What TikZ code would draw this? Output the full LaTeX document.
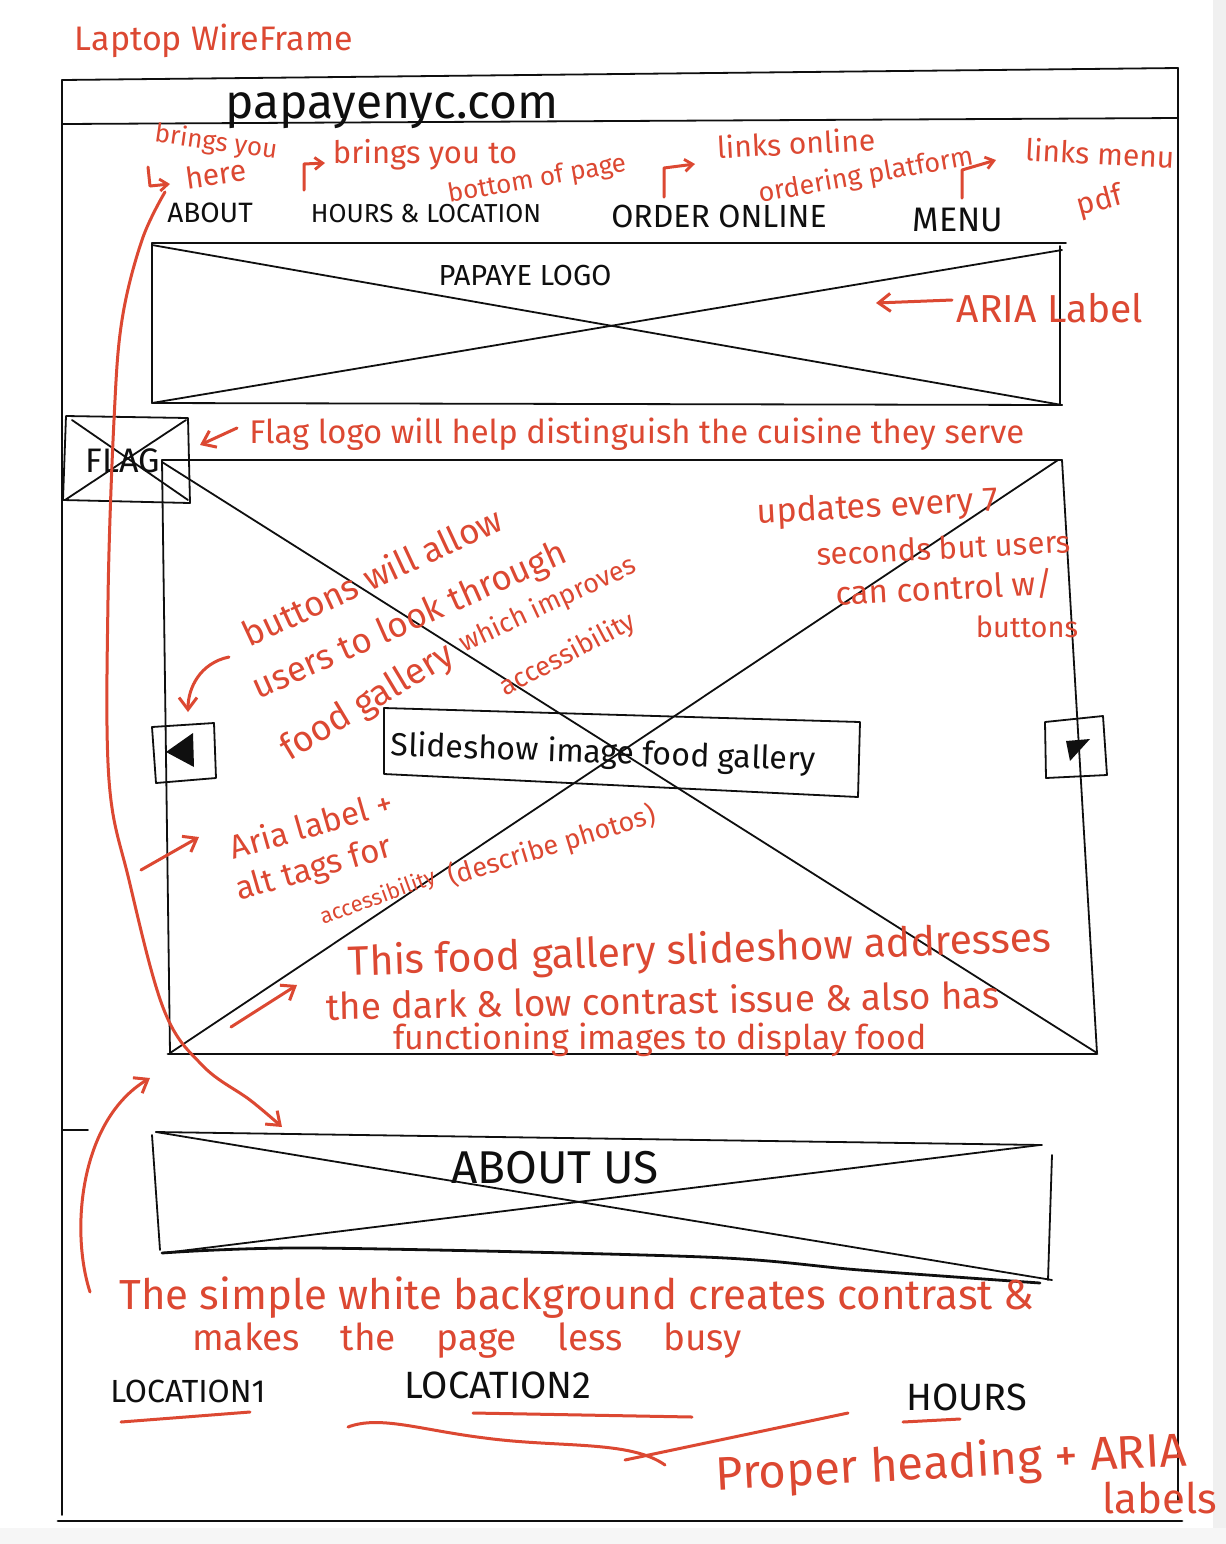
\documentclass[tikz,border=0pt]{standalone}
\usepackage{fontspec}
\setmainfont{Fira Sans}
\usetikzlibrary{arrows.meta}
\definecolor{ink}{RGB}{15,15,15}
\definecolor{pen}{RGB}{220,72,50}
\newcommand{\fsz}[1]{\fontsize{#1}{#1}\selectfont}
\begin{document}
\begin{tikzpicture}[x=0.5pt,y=-0.5pt,
  wire/.style={draw=ink,line width=0.9pt,line cap=round,line join=round},
  heavywire/.style={draw=ink,line width=1.4pt,line cap=round},
  redline/.style={draw=pen,line width=1.5pt,line cap=round,line join=round},
  redarrow/.style={redline,-{Straight Barb[length=6pt,width=9pt,line width=1.5pt]}},
  smallarrow/.style={redline,-{Straight Barb[length=4pt,width=6pt,line width=1.4pt]}},
  note/.style={text=pen,inner sep=0pt},
  lbl/.style={text=ink,inner sep=0pt,anchor=base},
]
\useasboundingbox (0,0) rectangle (1226,1544);
\fill[white] (0,0) rectangle (1226,1544);
\fill[gray!12] (1213,0) rectangle (1226,1544);
\fill[gray!7] (0,1528) rectangle (1226,1544);

% ---------- outer frame ----------
\draw[wire] (62,80) -- (1178,68);
\draw[wire] (62,124) -- (1178,118);
\draw[wire] (62,80) -- (62,1515);
\draw[wire] (1178,68) -- (1178,1500);
\draw[heavywire] (58,1521) -- (1182,1521);
\draw[wire] (62,1130) -- (88,1130);

\node[note,anchor=base,font=\fsz{17}] (title) at (214,50) {Laptop WireFrame};
\node[lbl,font=\fsz{24}] (domain) at (392,118) {papayenyc.com};

% ---------- navigation ----------
\node[lbl,font=\fsz{14}] (navabout) at (210,222) {ABOUT};
\node[lbl,font=\fsz{13}] (navhours) at (426,222) {HOURS \& LOCATION};
\node[lbl,font=\fsz{16}] (navorder) at (719,227) {ORDER ONLINE};
\node[lbl,font=\fsz{17}] (navmenu) at (958,231) {MENU};

\node[note,font=\fsz{13},rotate=-8] (n1a) at (216,143) {brings you};
\node[note,font=\fsz{15},rotate=8] (n1b) at (216,174) {here};
\draw[smallarrow] (148,167) -- (150,186) -- (170,184);

\node[note,anchor=base,font=\fsz{15.5}] (n2a) at (425,163) {brings you to};
\node[note,font=\fsz{13},rotate=10] (n2b) at (537,180) {bottom of page};
\draw[smallarrow] (304,190) -- (304,164) -- (325,163);

\node[note,font=\fsz{15},rotate=3] (n3a) at (796,143) {links online};
\node[note,font=\fsz{13.5},rotate=10] (n3b) at (866,176) {ordering platform};
\draw[smallarrow] (664,197) -- (664,168) -- (695,164);

\node[note,font=\fsz{15},rotate=-3] (n4a) at (1100,153) {links menu};
\node[note,font=\fsz{15},rotate=15] (n4b) at (1100,202) {pdf};
\draw[smallarrow] (962,198) -- (962,170) -- (996,160);

% ---------- logo box ----------
\draw[wire] (152,243) -- (1066,243);
\draw[wire] (152,243) -- (152,403) -- (1062,405);
\draw[wire] (1060,246) -- (1060,405);
\draw[wire] (152,245) -- (1062,405);
\draw[wire] (152,403) -- (1062,250);
\node[lbl,font=\fsz{14.5}] (logo) at (525,285) {PAPAYE LOGO};
\coordinate (logoedge) at (876,303);
\node[note,anchor=base,font=\fsz{19.5}] (arianote) at (1050,322) {ARIA Label};
\draw[redarrow] (952,300) -- (logoedge);

% ---------- flag ----------
\draw[wire] (66,416) -- (188,418) -- (190,503) -- (63,500) -- cycle;
\draw[wire] (72,420) -- (188,500);
\draw[wire] (65,500) -- (186,420);
\node[lbl,font=\fsz{17}] (flag) at (123,472) {FLAG};
\node[note,anchor=base west,font=\fsz{16.4}] (flagnote) at (249,443) {Flag logo will help distinguish the cuisine they serve};
\coordinate (flagedge) at (200,445);
\draw[redarrow] (237,428) -- (flagedge);

% ---------- slideshow ----------
\draw[wire] (162,460) -- (1062,460);
\draw[wire] (162,460) -- (170,1053);
\draw[wire] (1062,460) -- (1097,1053);
\draw[heavywire] (168,1054) -- (1097,1054);
\draw[wire] (162,462) -- (1097,1053);
\draw[wire] (170,1053) -- (1058,460);

\draw[wire] (384,708) -- (860,722) -- (858,797) -- (384,774) -- cycle;
\node[lbl,font=\fsz{16},rotate=-2] (caption) at (603,763) {Slideshow image food gallery};

% buttons
\draw[wire] (152,727) -- (214,723) -- (216,778) -- (156,783) -- cycle;
\fill[ink] (166,752) -- (193,733) -- (194,767) -- cycle;
\draw[wire] (1045,722) -- (1103,716) -- (1107,775) -- (1046,778) -- cycle;
\fill[ink] (1066,741) -- (1090,739) -- (1070,761) -- cycle;
\coordinate (leftbtn) at (188,712);

\node[note,font=\fsz{17.5},rotate=25] (b1) at (372,576) {buttons will allow};
\node[note,font=\fsz{17.5},rotate=24] (b2) at (410,622) {users to look through};
\node[note,font=\fsz{18},rotate=31] (b3) at (368,703) {food gallery};
\node[note,font=\fsz{13.5},rotate=25] (b4) at (548,605) {which improves};
\node[note,font=\fsz{13.5},rotate=28] (b5) at (568,655) {accessibility};
\draw[redarrow] (229,657) .. controls (200,663) and (188,688) .. (leftbtn);

\node[note,anchor=base,font=\fsz{17},rotate=3] (u1) at (878,517) {updates every 7};
\node[note,anchor=base,font=\fsz{15.5},rotate=3] (u2) at (944,559) {seconds but users};
\node[note,anchor=base,font=\fsz{16.5},rotate=3] (u3) at (945,600) {can control w/};
\node[note,anchor=base,font=\fsz{14.5}] (u4) at (1027,637) {buttons};

\node[note,font=\fsz{16.5},rotate=16] (a1) at (311,824) {Aria label +};
\node[note,font=\fsz{16.5},rotate=16] (a2) at (314,870) {alt tags for};
\node[note,font=\fsz{11},rotate=20] (a3) at (378,898) {accessibility};
\node[note,font=\fsz{13.5},rotate=17] (a4) at (552,846) {(describe photos)};
\coordinate (ariastart) at (141,870);
\draw[redarrow] (ariastart) -- (199,837);

\node[note,font=\fsz{20.5},rotate=2] (t1) at (700,952) {This food gallery slideshow addresses};
\node[note,font=\fsz{18.5},rotate=1] (t2) at (663,1000) {the dark \& low contrast issue \& also has};
\node[note,font=\fsz{17}] (t3) at (660,1040) {functioning images to display food};
\coordinate (galstart) at (231,1027);
\draw[redarrow] (galstart) -- (297,985);

% long curve from ABOUT to About Us section
\coordinate (aboutgo) at (165,192);
\coordinate (aboutsec) at (282,1127);
\draw[redarrow] plot[smooth,tension=0.6] coordinates {(aboutgo) (142,240) (122,320) (114,420) (108,600) (109,780) (129,880) (164,1010) (203,1066) (250,1100) (aboutsec)};

% ---------- about us ----------
\draw[wire] (156,1132) -- (1042,1145);
\draw[wire] (152,1135) -- (160,1250);
\draw[wire] (1052,1155) -- (1048,1280);
\draw[heavywire] plot[smooth,tension=0.5] coordinates {(162,1253) (313,1248) (704,1257) (860,1270) (1040,1283)};
\draw[wire] (156,1132) -- (1052,1280);
\draw[wire] (164,1253) -- (1040,1145);
\node[lbl,font=\fsz{23}] (aboutus) at (555,1183) {ABOUT US};

\node[note,anchor=base,font=\fsz{21}] (w1) at (577,1309) {The simple white background creates contrast \&};
\node[note,anchor=base,font=\fsz{18.5}] (w2) at (467,1350) {makes\hspace{1.1em}the\hspace{1.1em}page\hspace{1.1em}less\hspace{1.1em}busy};
\coordinate (bgstart) at (90,1292);
\draw[redarrow] (bgstart) .. controls (70,1230) and (80,1120) .. (150,1078);

% ---------- footer ----------
\node[lbl,font=\fsz{16}] (loc1) at (188,1402) {LOCATION1};
\node[lbl,font=\fsz{19}] (loc2) at (498,1398) {LOCATION2};
\node[lbl,font=\fsz{19}] (hours) at (967,1410) {HOURS};
\draw[redline] (121,1422) -- (250,1412);
\draw[redline] (473,1413) -- (692,1417);
\draw[redline] (903,1422) -- (960,1419);
\draw[redline] (348,1427) .. controls (380,1415) and (420,1430) .. (485,1438) .. controls (560,1448) and (630,1440) .. (665,1465);
\draw[redline] (625,1460) -- (848,1413);
\node[note,anchor=base,font=\fsz{23.5},rotate=3] (h1) at (952,1478) {Proper heading + ARIA};
\node[note,anchor=base,font=\fsz{21}] (h2) at (1160,1513) {labels};
\end{tikzpicture}
\end{document}
